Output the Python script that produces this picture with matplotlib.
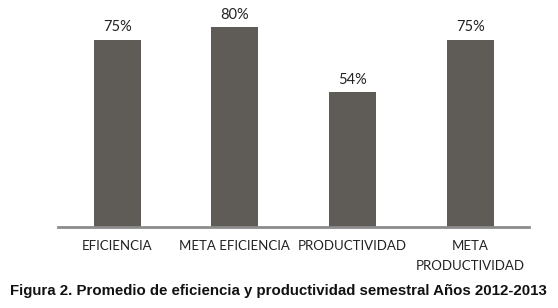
import matplotlib.pyplot as plt
import numpy as np

categorias = ["EFICIENCIA", "META EFICIENCIA", "PRODUCTIVIDAD", "META\nPRODUCTIVIDAD"]
valores = [75, 80, 54, 75]
etiquetas = ["75%", "80%", "54%", "75%"]

plt.rcParams['font.family'] = ['Lato', 'DejaVu Sans']

fig = plt.figure(figsize=(5.58, 3.08), dpi=100)
ax = fig.add_axes([58.4 / 558, 81 / 308, (529 - 58.4) / 558, 227 / 308])

x = np.arange(len(categorias))
barras = ax.bar(x, valores, width=0.4, color='#5f5b57')

for b, t in zip(barras, etiquetas):
    ax.annotate(t, (b.get_x() + b.get_width() / 2, b.get_height()),
                textcoords="offset points", xytext=(0, 4),
                ha='center', va='bottom', fontsize=10.5, color='#222222')

ax.set_xlim(-0.5, 3.5)
ax.set_ylim(0, 91)
ax.set_xticks(x)
ax.set_xticklabels(categorias, fontsize=9.5, color='#222222', linespacing=1.8)
ax.tick_params(axis='x', length=0, pad=9)
ax.set_yticks([])
for s in ['top', 'right', 'left']:
    ax.spines[s].set_visible(False)
ax.spines['bottom'].set_color('#8c8c8c')
ax.spines['bottom'].set_linewidth(2)

fig.text(278, 17, "Figura 2. Promedio de eficiencia y productividad semestral Años 2012-2013",
         transform=None, ha='center', va='center', fontsize=10.8, fontweight='bold',
         family=['Liberation Sans', 'DejaVu Sans'], color='#111111')

fig.savefig("out.png", dpi=100)
